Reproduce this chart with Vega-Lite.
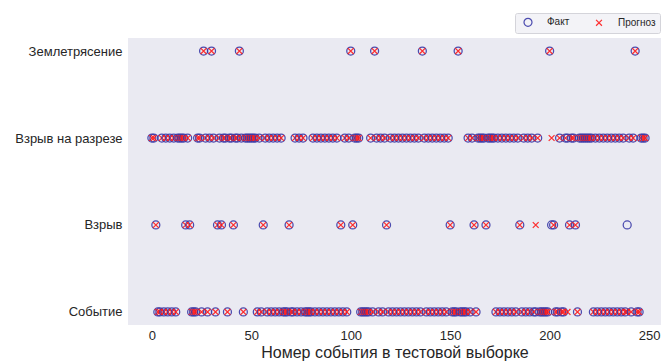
{
"$schema": "https://vega.github.io/schema/vega-lite/v6.json",
"width": 533, "height": 287,
"autosize": {"type": "none"},
"padding": {"left": 128, "top": 38, "right": 0, "bottom": 36},
"background": "white",
"config": {"view": {"fill": "#EAEAF2", "stroke": null}, "font": "Liberation Sans"},
"data": {"values": [
{"i":0,"Факт":"Р","Прогноз":"Р"},{"i":1,"Факт":"Р","Прогноз":"Р"},{"i":2,"Факт":"В","Прогноз":"В"},{"i":3,"Факт":"С","Прогноз":"С"},{"i":4,"Факт":"С","Прогноз":"С"},
{"i":5,"Факт":"Р","Прогноз":"Р"},{"i":6,"Факт":"С","Прогноз":"С"},{"i":7,"Факт":"Р","Прогноз":"Р"},{"i":8,"Факт":"С","Прогноз":"С"},{"i":9,"Факт":"Р","Прогноз":"Р"},
{"i":10,"Факт":"С","Прогноз":"С"},{"i":11,"Факт":"Р","Прогноз":"Р"},{"i":12,"Факт":"С","Прогноз":"С"},{"i":13,"Факт":"Р","Прогноз":"Р"},{"i":14,"Факт":"Р","Прогноз":"Р"},
{"i":15,"Факт":"Р","Прогноз":"Р"},{"i":16,"Факт":"Р","Прогноз":"Р"},{"i":17,"Факт":"В","Прогноз":"В"},{"i":18,"Факт":"Р","Прогноз":"Р"},{"i":19,"Факт":"В","Прогноз":"В"},
{"i":20,"Факт":"С","Прогноз":"С"},{"i":21,"Факт":"С","Прогноз":"С"},{"i":22,"Факт":"С","Прогноз":"С"},{"i":23,"Факт":"Р","Прогноз":"Р"},{"i":24,"Факт":"Р","Прогноз":"Р"},
{"i":25,"Факт":"С","Прогноз":"С"},{"i":26,"Факт":"З","Прогноз":"З"},{"i":27,"Факт":"Р","Прогноз":"Р"},{"i":28,"Факт":"С","Прогноз":"С"},{"i":29,"Факт":"Р","Прогноз":"Р"},
{"i":30,"Факт":"З","Прогноз":"З"},{"i":31,"Факт":"Р","Прогноз":"Р"},{"i":32,"Факт":"С","Прогноз":"С"},{"i":33,"Факт":"В","Прогноз":"В"},{"i":34,"Факт":"Р","Прогноз":"Р"},
{"i":35,"Факт":"В","Прогноз":"В"},{"i":36,"Факт":"Р","Прогноз":"Р"},{"i":37,"Факт":"Р","Прогноз":"Р"},{"i":38,"Факт":"С","Прогноз":"С"},{"i":39,"Факт":"Р","Прогноз":"Р"},
{"i":40,"Факт":"Р","Прогноз":"Р"},{"i":41,"Факт":"В","Прогноз":"В"},{"i":42,"Факт":"Р","Прогноз":"Р"},{"i":43,"Факт":"Р","Прогноз":"Р"},{"i":44,"Факт":"З","Прогноз":"З"},
{"i":45,"Факт":"Р","Прогноз":"Р"},{"i":46,"Факт":"С","Прогноз":"С"},{"i":47,"Факт":"Р","Прогноз":"Р"},{"i":48,"Факт":"Р","Прогноз":"Р"},{"i":49,"Факт":"Р","Прогноз":"Р"},
{"i":50,"Факт":"Р","Прогноз":"Р"},{"i":51,"Факт":"Р","Прогноз":"Р"},{"i":52,"Факт":"Р","Прогноз":"Р"},{"i":53,"Факт":"С","Прогноз":"С"},{"i":54,"Факт":"Р","Прогноз":"Р"},
{"i":55,"Факт":"С","Прогноз":"С"},{"i":56,"Факт":"В","Прогноз":"В"},{"i":57,"Факт":"Р","Прогноз":"Р"},{"i":58,"Факт":"С","Прогноз":"С"},{"i":59,"Факт":"Р","Прогноз":"Р"},
{"i":60,"Факт":"С","Прогноз":"С"},{"i":61,"Факт":"Р","Прогноз":"Р"},{"i":62,"Факт":"С","Прогноз":"С"},{"i":63,"Факт":"Р","Прогноз":"Р"},{"i":64,"Факт":"С","Прогноз":"С"},
{"i":65,"Факт":"Р","Прогноз":"Р"},{"i":66,"Факт":"С","Прогноз":"С"},{"i":67,"Факт":"С","Прогноз":"С"},{"i":68,"Факт":"С","Прогноз":"С"},{"i":69,"Факт":"В","Прогноз":"В"},
{"i":70,"Факт":"С","Прогноз":"С"},{"i":71,"Факт":"С","Прогноз":"С"},{"i":72,"Факт":"Р","Прогноз":"Р"},{"i":73,"Факт":"С","Прогноз":"С"},{"i":74,"Факт":"Р","Прогноз":"Р"},
{"i":75,"Факт":"С","Прогноз":"С"},{"i":76,"Факт":"Р","Прогноз":"Р"},{"i":77,"Факт":"С","Прогноз":"С"},{"i":78,"Факт":"С","Прогноз":"С"},{"i":79,"Факт":"С","Прогноз":"С"},
{"i":80,"Факт":"С","Прогноз":"С"},{"i":81,"Факт":"Р","Прогноз":"Р"},{"i":82,"Факт":"С","Прогноз":"С"},{"i":83,"Факт":"Р","Прогноз":"Р"},{"i":84,"Факт":"С","Прогноз":"С"},
{"i":85,"Факт":"Р","Прогноз":"Р"},{"i":86,"Факт":"С","Прогноз":"С"},{"i":87,"Факт":"Р","Прогноз":"Р"},{"i":88,"Факт":"С","Прогноз":"С"},{"i":89,"Факт":"Р","Прогноз":"Р"},
{"i":90,"Факт":"С","Прогноз":"С"},{"i":91,"Факт":"Р","Прогноз":"Р"},{"i":92,"Факт":"С","Прогноз":"С"},{"i":93,"Факт":"Р","Прогноз":"Р"},{"i":94,"Факт":"С","Прогноз":"С"},
{"i":95,"Факт":"В","Прогноз":"В"},{"i":96,"Факт":"С","Прогноз":"С"},{"i":97,"Факт":"Р","Прогноз":"Р"},{"i":98,"Факт":"С","Прогноз":"С"},{"i":99,"Факт":"Р","Прогноз":"Р"},
{"i":100,"Факт":"З","Прогноз":"З"},{"i":101,"Факт":"В","Прогноз":"В"},{"i":102,"Факт":"Р","Прогноз":"Р"},{"i":103,"Факт":"Р","Прогноз":"Р"},{"i":104,"Факт":"Р","Прогноз":"Р"},
{"i":105,"Факт":"С","Прогноз":"С"},{"i":106,"Факт":"С","Прогноз":"С"},{"i":107,"Факт":"С","Прогноз":"С"},{"i":108,"Факт":"С","Прогноз":"С"},{"i":109,"Факт":"С","Прогноз":"С"},
{"i":110,"Факт":"Р","Прогноз":"Р"},{"i":111,"Факт":"С","Прогноз":"С"},{"i":112,"Факт":"З","Прогноз":"З"},{"i":113,"Факт":"Р","Прогноз":"Р"},{"i":114,"Факт":"С","Прогноз":"С"},
{"i":115,"Факт":"Р","Прогноз":"Р"},{"i":116,"Факт":"С","Прогноз":"С"},{"i":117,"Факт":"Р","Прогноз":"Р"},{"i":118,"Факт":"В","Прогноз":"В"},{"i":119,"Факт":"С","Прогноз":"С"},
{"i":120,"Факт":"Р","Прогноз":"Р"},{"i":121,"Факт":"С","Прогноз":"С"},{"i":122,"Факт":"Р","Прогноз":"Р"},{"i":123,"Факт":"С","Прогноз":"С"},{"i":124,"Факт":"Р","Прогноз":"Р"},
{"i":125,"Факт":"С","Прогноз":"С"},{"i":126,"Факт":"Р","Прогноз":"Р"},{"i":127,"Факт":"С","Прогноз":"С"},{"i":128,"Факт":"Р","Прогноз":"Р"},{"i":129,"Факт":"С","Прогноз":"С"},
{"i":130,"Факт":"Р","Прогноз":"Р"},{"i":131,"Факт":"С","Прогноз":"С"},{"i":132,"Факт":"Р","Прогноз":"Р"},{"i":133,"Факт":"С","Прогноз":"С"},{"i":134,"Факт":"Р","Прогноз":"Р"},
{"i":135,"Факт":"С","Прогноз":"С"},{"i":136,"Факт":"З","Прогноз":"З"},{"i":137,"Факт":"Р","Прогноз":"Р"},{"i":138,"Факт":"С","Прогноз":"С"},{"i":139,"Факт":"Р","Прогноз":"Р"},
{"i":140,"Факт":"С","Прогноз":"С"},{"i":141,"Факт":"Р","Прогноз":"Р"},{"i":142,"Факт":"С","Прогноз":"С"},{"i":143,"Факт":"Р","Прогноз":"Р"},{"i":144,"Факт":"С","Прогноз":"С"},
{"i":145,"Факт":"Р","Прогноз":"Р"},{"i":146,"Факт":"С","Прогноз":"С"},{"i":147,"Факт":"Р","Прогноз":"Р"},{"i":148,"Факт":"С","Прогноз":"С"},{"i":149,"Факт":"Р","Прогноз":"Р"},
{"i":150,"Факт":"В","Прогноз":"В"},{"i":151,"Факт":"С","Прогноз":"С"},{"i":152,"Факт":"С","Прогноз":"С"},{"i":153,"Факт":"С","Прогноз":"С"},{"i":154,"Факт":"З","Прогноз":"З"},
{"i":155,"Факт":"С","Прогноз":"С"},{"i":156,"Факт":"С","Прогноз":"С"},{"i":157,"Факт":"С","Прогноз":"С"},{"i":158,"Факт":"С","Прогноз":"С"},{"i":159,"Факт":"Р","Прогноз":"Р"},
{"i":160,"Факт":"С","Прогноз":"С"},{"i":161,"Факт":"Р","Прогноз":"Р"},{"i":162,"Факт":"В","Прогноз":"В"},{"i":163,"Факт":"С","Прогноз":"С"},{"i":164,"Факт":"Р","Прогноз":"Р"},
{"i":165,"Факт":"Р","Прогноз":"Р"},{"i":166,"Факт":"Р","Прогноз":"Р"},{"i":167,"Факт":"Р","Прогноз":"Р"},{"i":168,"Факт":"В","Прогноз":"В"},{"i":169,"Факт":"Р","Прогноз":"Р"},
{"i":170,"Факт":"Р","Прогноз":"Р"},{"i":171,"Факт":"Р","Прогноз":"Р"},{"i":172,"Факт":"Р","Прогноз":"Р"},{"i":173,"Факт":"С","Прогноз":"С"},{"i":174,"Факт":"Р","Прогноз":"Р"},
{"i":175,"Факт":"С","Прогноз":"С"},{"i":176,"Факт":"Р","Прогноз":"Р"},{"i":177,"Факт":"С","Прогноз":"С"},{"i":178,"Факт":"Р","Прогноз":"Р"},{"i":179,"Факт":"С","Прогноз":"С"},
{"i":180,"Факт":"Р","Прогноз":"Р"},{"i":181,"Факт":"С","Прогноз":"С"},{"i":182,"Факт":"Р","Прогноз":"Р"},{"i":183,"Факт":"С","Прогноз":"С"},{"i":184,"Факт":"Р","Прогноз":"Р"},
{"i":185,"Факт":"В","Прогноз":"В"},{"i":186,"Факт":"С","Прогноз":"С"},{"i":187,"Факт":"Р","Прогноз":"Р"},{"i":188,"Факт":"С","Прогноз":"С"},{"i":189,"Факт":"Р","Прогноз":"Р"},
{"i":190,"Факт":"С","Прогноз":"С"},{"i":191,"Факт":"Р","Прогноз":"Р"},{"i":192,"Факт":"С","Прогноз":"С"},{"i":193,"Факт":"С","Прогноз":"В"},{"i":194,"Факт":"Р","Прогноз":"Р"},
{"i":195,"Факт":"С","Прогноз":"С"},{"i":196,"Факт":"С","Прогноз":"С"},{"i":197,"Факт":"С","Прогноз":"С"},{"i":198,"Факт":"С","Прогноз":"С"},{"i":199,"Факт":"С","Прогноз":"С"},
{"i":200,"Факт":"З","Прогноз":"З"},{"i":201,"Факт":"В","Прогноз":"Р"},{"i":202,"Факт":"В","Прогноз":"В"},{"i":203,"Факт":"С","Прогноз":"С"},{"i":204,"Факт":"С","Прогноз":"С"},
{"i":205,"Факт":"Р","Прогноз":"Р"},{"i":206,"Факт":"С","Прогноз":"С"},{"i":207,"Факт":"С","Прогноз":"С"},{"i":208,"Факт":"Р","Прогноз":"Р"},{"i":209,"Факт":"Р","Прогноз":"С"},
{"i":210,"Факт":"В","Прогноз":"В"},{"i":211,"Факт":"Р","Прогноз":"Р"},{"i":212,"Факт":"Р","Прогноз":"Р"},{"i":213,"Факт":"В","Прогноз":"В"},{"i":214,"Факт":"С","Прогноз":"С"},
{"i":215,"Факт":"Р","Прогноз":"Р"},{"i":216,"Факт":"Р","Прогноз":"Р"},{"i":217,"Факт":"Р","Прогноз":"Р"},{"i":218,"Факт":"Р","Прогноз":"Р"},{"i":219,"Факт":"Р","Прогноз":"Р"},
{"i":220,"Факт":"Р","Прогноз":"Р"},{"i":221,"Факт":"Р","Прогноз":"Р"},{"i":222,"Факт":"С","Прогноз":"С"},{"i":223,"Факт":"Р","Прогноз":"Р"},{"i":224,"Факт":"С","Прогноз":"С"},
{"i":225,"Факт":"Р","Прогноз":"Р"},{"i":226,"Факт":"С","Прогноз":"С"},{"i":227,"Факт":"Р","Прогноз":"Р"},{"i":228,"Факт":"С","Прогноз":"С"},{"i":229,"Факт":"Р","Прогноз":"Р"},
{"i":230,"Факт":"С","Прогноз":"С"},{"i":231,"Факт":"Р","Прогноз":"Р"},{"i":232,"Факт":"С","Прогноз":"С"},{"i":233,"Факт":"Р","Прогноз":"Р"},{"i":234,"Факт":"С","Прогноз":"С"},
{"i":235,"Факт":"Р","Прогноз":"Р"},{"i":236,"Факт":"С","Прогноз":"С"},{"i":237,"Факт":"Р","Прогноз":"Р"},{"i":238,"Факт":"С","Прогноз":"С"},{"i":239,"Факт":"В","Прогноз":"С"},
{"i":240,"Факт":"Р","Прогноз":"Р"},{"i":241,"Факт":"С","Прогноз":"С"},{"i":242,"Факт":"Р","Прогноз":"Р"},{"i":243,"Факт":"З","Прогноз":"З"},{"i":244,"Факт":"С","Прогноз":"С"},
{"i":245,"Факт":"С","Прогноз":"С"},{"i":246,"Факт":"Р","Прогноз":"Р"},{"i":247,"Факт":"Р","Прогноз":"Р"},{"i":248,"Факт":"Р","Прогноз":"Р"}
]},
"transform": [{"fold": ["Факт", "Прогноз"], "as": ["series", "cls"]}],
"mark": {"type": "point", "filled": false, "strokeWidth": 1.25, "opacity": 0.9},
"encoding": {
  "x": {"field": "i", "type": "quantitative",
        "scale": {"domain": [-12, 256], "nice": false, "zero": false},
        "axis": {"values": [0, 50, 100, 150, 200, 250], "grid": false, "domain": false, "ticks": false,
                 "labelPadding": 4, "labelFontSize": 13, "labelColor": "#262626", "labelFont": "Liberation Sans",
                 "title": "Номер события в тестовой выборке", "titleFontSize": 16, "titleFontWeight": "normal",
                 "titleColor": "#262626", "titleFont": "Liberation Sans", "titlePadding": 2}},
  "y": {"field": "cls", "type": "nominal",
        "scale": {"domain": ["З", "Р", "В", "С"], "padding": 0.15},
        "axis": {"title": null, "grid": false, "domain": false, "ticks": false, "labelPadding": 6,
                 "labelFontSize": 13, "labelColor": "#262626", "labelFont": "Liberation Sans",
                 "labelExpr": "datum.value == 'З' ? 'Землетрясение' : datum.value == 'Р' ? 'Взрыв на разрезе' : datum.value == 'В' ? 'Взрыв' : 'Событие'"}},
  "color": {"field": "series", "type": "nominal",
            "scale": {"domain": ["Факт", "Прогноз"], "range": ["#3a3aa8", "#ff1a1a"]},
            "legend": {"title": null, "orient": "none", "legendX": 387, "legendY": -25, "direction": "horizontal",
                       "fillColor": "#F3F3F7", "strokeColor": "#D4D4DA", "padding": 4, "cornerRadius": 2,
                       "labelFontSize": 10, "labelFont": "Liberation Sans", "labelColor": "#262626",
                       "symbolOffset": 4, "labelOffset": 14, "columnPadding": 20, "symbolStrokeWidth": 1.2}},
  "shape": {"field": "series", "type": "nominal",
            "scale": {"domain": ["Факт", "Прогноз"], "range": ["circle", "M-1,-1L1,1M-1,1L1,-1"]}},
  "size": {"field": "series", "type": "nominal",
           "scale": {"domain": ["Факт", "Прогноз"], "range": [64, 34]}}
}
}
